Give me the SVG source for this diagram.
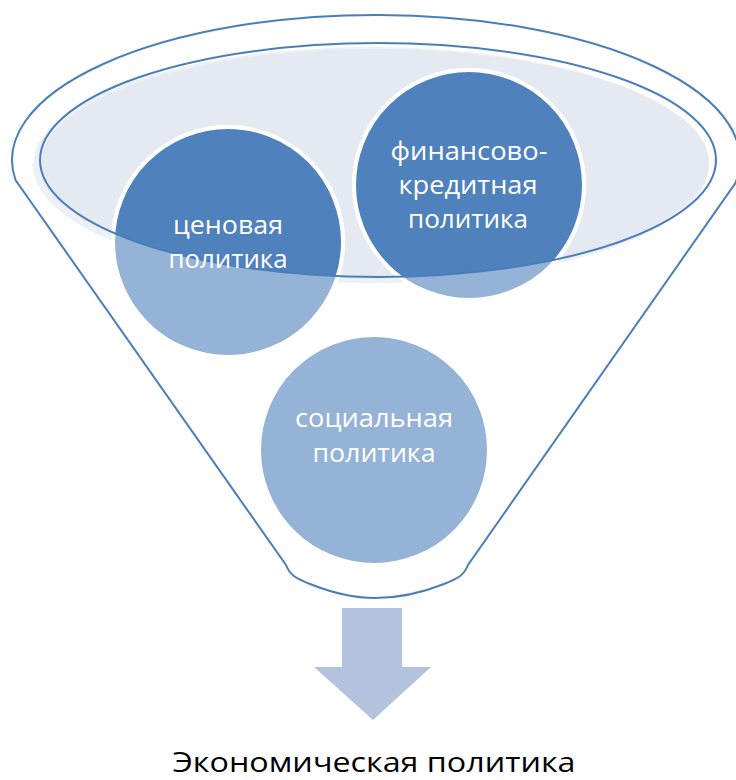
<svg xmlns="http://www.w3.org/2000/svg" width="736" height="780" viewBox="0 0 736 780">
<defs>
<style>
.outline{fill:none;stroke:#4A7EBB;stroke-width:2}
.light{fill:#95B3D7;stroke:#fff;stroke-width:4}
.dark{fill:#4F81BD;stroke:#fff;stroke-width:4}
.t{font-family:"Open Sans","Liberation Sans",sans-serif;font-size:26px;fill:#fff;text-anchor:middle}
.cap{font-family:"Open Sans","Liberation Sans",sans-serif;font-size:27px;fill:#000;text-anchor:middle}
</style>
<clipPath id="inner">
<ellipse cx="378" cy="160" rx="338" ry="117"/>
</clipPath>
</defs>
<rect width="736" height="780" fill="#fff"/>
<g id="funnel">
<path class="outline" fill="#fff" d="M15.5 180 A364 145 0 1 1 735.4 183 L468 565 C464 575 459 578 444 584 C424 592 400 598 375 598 C350 598 330 592 310 584 C295 578 290 575 286 565 Z"/>
<ellipse cx="371" cy="165" rx="338" ry="118" fill="#EDF0F7"/>
<ellipse cx="375" cy="163" rx="334" ry="114" fill="#E4E9F2"/>
</g>
<g id="node-price">
<circle class="light" cx="228" cy="242" r="115"/>
<circle class="dark" cx="228" cy="242" r="115" clip-path="url(#inner)"/>
</g>
<g id="node-finance">
<circle class="light" cx="469" cy="185" r="115"/>
<circle class="dark" cx="469" cy="185" r="115" clip-path="url(#inner)"/>
</g>
<g id="node-social">
<circle class="light" cx="374" cy="450" r="115"/>
</g>
<ellipse class="outline" cx="378" cy="160" rx="338" ry="117"/>
<g id="labels">
<text class="t" x="228" y="234" textLength="110" lengthAdjust="spacingAndGlyphs">ценовая</text>
<text class="t" x="228" y="268" textLength="119" lengthAdjust="spacingAndGlyphs">политика</text>
<text class="t" x="469" y="160" textLength="157" lengthAdjust="spacingAndGlyphs">финансово-</text>
<text class="t" x="468" y="194" textLength="139" lengthAdjust="spacingAndGlyphs">кредитная</text>
<text class="t" x="468" y="228" textLength="120" lengthAdjust="spacingAndGlyphs">политика</text>
<text class="t" x="374" y="427" textLength="158" lengthAdjust="spacingAndGlyphs">социальная</text>
<text class="t" x="374" y="462" textLength="123" lengthAdjust="spacingAndGlyphs">политика</text>
</g>
<g id="connectors">
<polygon points="342,608 402,608 402,667 431,667 373,720 314,667 342,667" fill="#B3C3DD"/>
</g>
<g id="result">
<text class="cap" x="374" y="772" textLength="403" lengthAdjust="spacingAndGlyphs">Экономическая политика</text>
</g>
</svg>
